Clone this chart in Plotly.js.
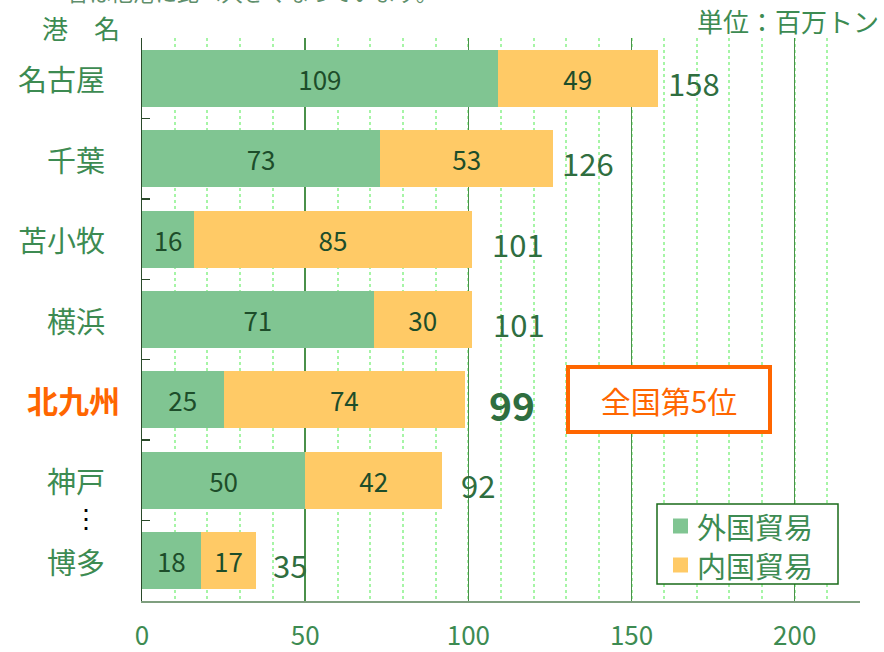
<!DOCTYPE html>
<html>
<head>
<meta charset="utf-8">
<script src="https://cdn.plot.ly/plotly-3.0.1.min.js"></script>
<style>html,body{margin:0;padding:0;background:#fff;}#chart{width:884px;height:652px;}</style>
</head>
<body>
<div id="chart"></div>
<script>
const ports = ["名古屋", "千葉", "苫小牧", "横浜", "北九州", "神戸", "博多"];
const foreignTrade = [109, 73, 16, 71, 25, 50, 18];
const domesticTrade = [49, 53, 85, 30, 74, 42, 17];
const totals = [158, 126, 101, 101, 99, 92, 35];
const xTicks = [0, 50, 100, 150, 200];
const seriesNames = ["外国貿易", "内国貿易"];
const seriesColors = ['#80c592', '#ffca66'];

const FONT = '"Noto Sans CJK JP", "Noto Sans", sans-serif';
const GREEN_TXT = '#3d8b52';
const INNER_TXT = '#1d4d2a';
const TOTAL_TXT = '#2f6e3f';
const ORANGE = '#ff6600';

const traces = [
  {type: 'bar', orientation: 'h', name: seriesNames[0], y: ports, x: foreignTrade,
   marker: {color: seriesColors[0]}, text: foreignTrade.map(String), textposition: 'inside',
   insidetextanchor: 'middle', textangle: 0, constraintext: 'none',
   textfont: {family: FONT, size: 26, color: INNER_TXT}, hoverinfo: 'none', showlegend: false},
  {type: 'bar', orientation: 'h', name: seriesNames[1], y: ports, x: domesticTrade,
   marker: {color: seriesColors[1]}, text: domesticTrade.map(String), textposition: 'inside',
   insidetextanchor: 'middle', textangle: 0, constraintext: 'none',
   textfont: {family: FONT, size: 26, color: INNER_TXT}, hoverinfo: 'none', showlegend: false}
];

// pixel -> paper helpers (plot area: x 142..860, y 38..601)
const px = v => (v - 142) / 718;
const py = v => (601 - v) / 563;

const totalShift = [10, 9, 20, 21, 24, 19, 17];
const annotations = [];
totals.forEach((t, i) => {
  const isKK = ports[i] === '北九州';
  annotations.push({x: t, y: ports[i], xref: 'x', yref: 'y', text: isKK ? '<b>' + t + '</b>' : String(t),
    showarrow: false, xanchor: 'left', yanchor: 'middle', xshift: totalShift[i] - 2, yshift: -4,
    font: {family: FONT, size: isKK ? 39 : 31, color: TOTAL_TXT}});
});
ports.forEach((p, i) => {
  const isKK = p === '北九州';
  annotations.push({x: 0, y: p, xref: 'paper', yref: 'y', text: isKK ? '<b>' + p + '</b>' : p,
    showarrow: false, xanchor: 'right', yanchor: 'middle', xshift: isKK ? -20 : -35,
    font: {family: FONT, size: isKK ? 31 : 29, color: isKK ? ORANGE : GREEN_TXT}});
});
annotations.push({x: px(86), y: 5.45, xref: 'paper', yref: 'y', text: '⋮', showarrow: false,
  xanchor: 'center', yanchor: 'middle', font: {family: FONT, size: 26, color: '#000'}});
annotations.push({x: px(40), y: 1, xref: 'paper', yref: 'paper', text: '港　名', showarrow: false,
  xanchor: 'left', yanchor: 'middle', yshift: 11, font: {family: FONT, size: 26, color: GREEN_TXT}});
annotations.push({x: px(881), y: 1, xref: 'paper', yref: 'paper', text: '単位：百万トン', showarrow: false,
  xanchor: 'right', yanchor: 'middle', yshift: 18, font: {family: FONT, size: 26, color: GREEN_TXT}});
annotations.push({x: px(65), y: 1, xref: 'paper', yref: 'paper', text: '合は他港に比べ大きくなっています。', showarrow: false,
  xanchor: 'left', yanchor: 'middle', yshift: 47, font: {family: FONT, size: 22, color: '#5f8f6c'}});
annotations.push({x: px(669), y: '北九州', xref: 'paper', yref: 'y', text: '全国第5位', showarrow: false,
  xanchor: 'center', yanchor: 'middle', width: 192, height: 55, borderpad: 3, borderwidth: 4,
  bordercolor: ORANGE, bgcolor: '#ffffff', font: {family: FONT, size: 30, color: ORANGE}});

// legend drawn manually
const shapes = [
  {type: 'rect', xref: 'paper', yref: 'paper', x0: px(657), x1: px(838), y0: py(584), y1: py(504),
   line: {color: '#1a6b1a', width: 1.5}, fillcolor: '#ffffff', layer: 'above'}
];
const legendRows = [526, 565];
seriesNames.forEach((n, i) => {
  const cy = legendRows[i];
  shapes.push({type: 'rect', xref: 'paper', yref: 'paper', x0: px(673), x1: px(688), y0: py(cy + 7.5), y1: py(cy - 7.5),
    line: {width: 0}, fillcolor: seriesColors[i], layer: 'above'});
  annotations.push({x: px(695), y: py(cy), xref: 'paper', yref: 'paper', text: n, showarrow: false,
    xanchor: 'left', yanchor: 'middle', font: {family: FONT, size: 29, color: GREEN_TXT}});
});

const layout = {
  width: 884, height: 652,
  margin: {l: 142, r: 24, t: 38, b: 51},
  paper_bgcolor: '#fff', plot_bgcolor: '#fff',
  barmode: 'stack', bargap: 0.29,
  showlegend: false,
  xaxis: {range: [0, 220], tickmode: 'array', tickvals: xTicks, ticktext: xTicks.map(String),
    showgrid: true, gridcolor: '#4a904a', gridwidth: 1.5, zeroline: false,
    minor: {dtick: 10, tick0: 0, showgrid: true, gridcolor: '#a6f5a6', griddash: 'dot', gridwidth: 2},
    showline: true, linecolor: '#7f9f7f', linewidth: 2, ticks: '',
    ticklabelstandoff: 11, tickfont: {family: FONT, size: 26, color: GREEN_TXT}, fixedrange: true},
  yaxis: {type: 'category', categoryorder: 'array', categoryarray: ports, autorange: 'reversed',
    showticklabels: false, showgrid: false, zeroline: false,
    showline: true, linecolor: '#2a4a2a', linewidth: 1.5,
    ticks: 'inside', tickson: 'boundaries', ticklen: 8, tickwidth: 1.5, tickcolor: '#2a4a2a', fixedrange: true},
  annotations: annotations,
  shapes: shapes,
  font: {family: FONT}
};

Plotly.newPlot('chart', traces, layout, {displayModeBar: false, staticPlot: true});
</script>
</body>
</html>
